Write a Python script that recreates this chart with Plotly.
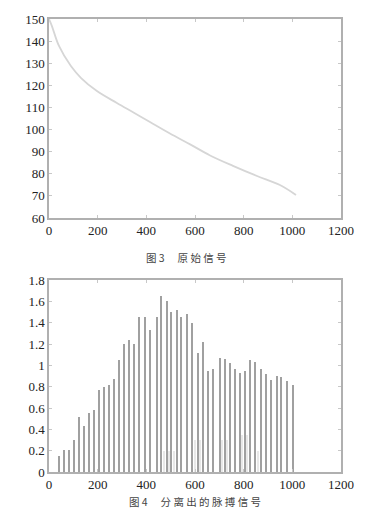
import plotly.graph_objects as go

# Figure 3: original signal (sample index vs value)
raw_x = [0, 12, 41, 90, 132, 197, 279, 349, 415, 497, 580, 662, 756, 855, 949, 1015]
raw_y = [150, 146.8, 137.8, 128.7, 123.3, 117.4, 112, 107.6, 103.4, 98.2, 93.3, 88.3, 83.6, 79, 74.9, 70.4]

# Figure 4: separated pulse signal (peak positions and heights)
pulse_x = [40, 62, 82, 103, 123, 144, 164, 185, 205, 226, 247, 267, 288, 308, 330, 350,
           372, 395, 415, 443, 463, 484, 504, 525, 545, 566, 590, 612, 632, 655, 675,
           703, 723, 744, 764, 785, 806, 828, 849, 870, 891, 912, 936, 956, 977, 1003]
pulse_y = [0.15, 0.21, 0.21, 0.3, 0.52, 0.43, 0.55, 0.58, 0.77, 0.8, 0.82, 0.87, 1.05, 1.2, 1.24, 1.2,
           1.45, 1.45, 1.33, 1.45, 1.65, 1.6, 1.5, 1.52, 1.45, 1.48, 1.4, 1.12, 1.22, 0.95, 0.97,
           1.07, 1.06, 1.02, 0.97, 0.93, 0.95, 1.05, 1.03, 0.97, 0.92, 0.86, 0.9, 0.89, 0.85, 0.82]

# faint secondary ripples
ripple_x = [474, 494, 514, 600, 620, 712, 733, 795, 815, 860]
ripple_y = [0.2, 0.2, 0.2, 0.3, 0.3, 0.3, 0.3, 0.35, 0.35, 0.2]

top_yticks = [60, 70, 80, 90, 100, 110, 120, 130, 140, 150]
bot_yticks = [0, 0.2, 0.4, 0.6, 0.8, 1, 1.2, 1.4, 1.6, 1.8]
bot_yticktext = ["0", "0.2", "0.4", "0.6", "0.8", "1", "1.2", "1.4", "1.6", "1.8"]
xticks = [0, 200, 400, 600, 800, 1000, 1200]
caption3 = "图 3　 原 始 信 号"
caption4 = "图 4　 分 离 出 的 脉 搏 信 号"

W, H = 378, 520
l, r, t, b = 49, 37, 19, 48
pw, ph = W - l - r, H - t - b

fig = go.Figure()
fig.add_trace(go.Scatter(x=raw_x, y=raw_y, mode="lines", line=dict(color="#d6d6d6", width=1.8),
                         xaxis="x", yaxis="y", showlegend=False, line_shape="spline"))
fig.add_trace(go.Bar(x=ripple_x, y=ripple_y, width=5, marker=dict(color="#e8e8e8", line=dict(width=0)),
                     xaxis="x2", yaxis="y2", showlegend=False))
fig.add_trace(go.Bar(x=pulse_x, y=pulse_y, width=5.5, marker=dict(color="#a0a0a0", line=dict(width=0)),
                     xaxis="x2", yaxis="y2", showlegend=False))

serif = "Times New Roman"
axis_common = dict(showgrid=False, zeroline=False, showline=True, mirror="ticks",
                   linecolor="#b0b0b0", linewidth=1.5, ticks="inside", ticklen=3,
                   tickcolor="#c8c8c8", tickfont=dict(family=serif, size=13, color="#222"))

def cap(text, px, py):
    return dict(text=text, x=(px - l) / pw, y=(H - b - py) / ph, xref="paper", yref="paper",
                showarrow=False, xanchor="center", yanchor="middle",
                font=dict(family="Noto Sans CJK SC", size=10.5, color="#444"))

fig.update_layout(
    width=W, height=H,
    margin=dict(l=l, r=r, t=t, b=b),
    paper_bgcolor="white", plot_bgcolor="white",
    bargap=0,
    font=dict(family=serif),
    xaxis=dict(domain=[0, 1], range=[0, 1200], tickvals=xticks, anchor="y", **axis_common),
    yaxis=dict(domain=[0.5607, 1], range=[60, 150], tickvals=top_yticks, anchor="x", **axis_common),
    xaxis2=dict(domain=[0, 1], range=[0, 1200], tickvals=xticks, anchor="y2", **axis_common),
    yaxis2=dict(domain=[0, 0.4238], range=[0, 1.8], tickvals=bot_yticks, ticktext=bot_yticktext,
                anchor="x2", **axis_common),
    annotations=[cap(caption3, 186, 257), cap(caption4, 195, 502)],
)

fig.write_html("out.html")
